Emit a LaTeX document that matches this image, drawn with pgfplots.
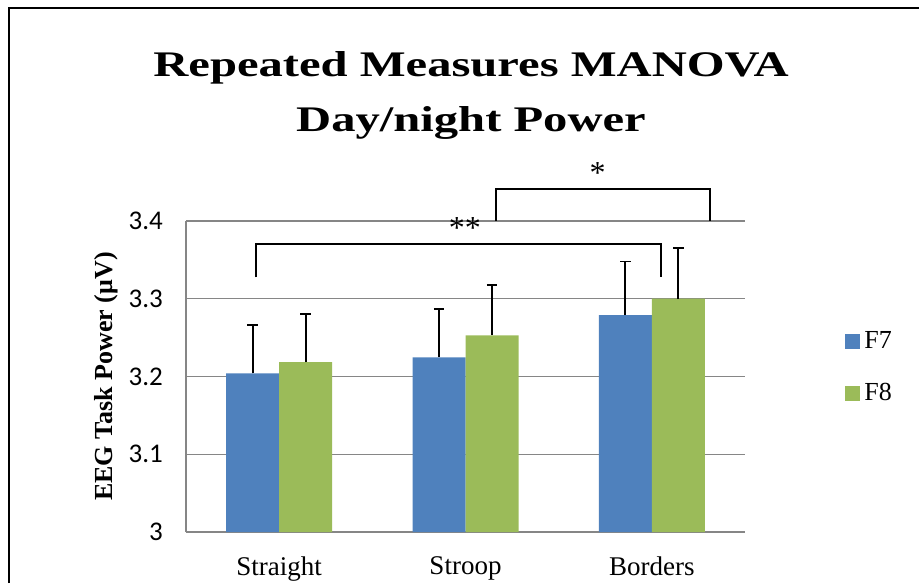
\documentclass[border=0pt]{standalone}
\usepackage{fontspec}
\setmainfont{Liberation Serif}
\newfontfamily\carlito{Carlito}
\newfontfamily\titlefont[FakeStretch=1.35]{Liberation Serif}
\usepackage{pgfplots}
\pgfplotsset{compat=1.18}
\definecolor{cblue}{HTML}{4F81BD}
\definecolor{cgreen}{HTML}{9BBB59}
\definecolor{cgrid}{HTML}{868686}
\begin{document}
\begin{tikzpicture}
\begin{axis}[name=ax, scale only axis, width=279.5pt, height=155.5pt,
 ybar=0pt, bar width=26.5pt,
 xmin=-0.5, xmax=2.5, ymin=3, ymax=3.4,
 ytick={3,3.1,3.2,3.3,3.4},
 xtick={0,1,2}, xticklabels={Straight,Stroop,Borders},
 major tick length=0pt,
 ymajorgrids, grid style={cgrid, line width=0.6pt},
 axis x line*=bottom, axis y line*=left,
 axis line style={cgrid, line width=0.6pt, -},
 clip=false,
 /pgf/number format/assume math mode=true,
 yticklabel style={font=\carlito\fontsize{13.5}{15}\selectfont, xshift=-8pt},
 xticklabel style={font=\fontsize{13.5}{15}\selectfont, yshift=-9pt},
 every axis y label/.style={at={(rel axis cs:0,0.5)}, xshift=-40pt, rotate=90, anchor=center, font=\bfseries\fontsize{13}{15}\selectfont},
 ylabel={EEG Task Power (μV)},
 legend style={draw=none, fill=none, at={(rel axis cs:1,0.53)}, anchor=west, xshift=50pt, inner sep=0pt, row sep=12pt, font=\fontsize{13}{15}\selectfont},
 legend cell align=left,
 legend image code/.code={\fill[#1] (0pt,-3.75pt) rectangle (7.5pt,3.75pt);},
]
\addplot[bar shift=-13.25pt, fill=cblue, draw=none,
  error bars/.cd, y dir=plus, y explicit, error bar style={black, line width=0.9pt},
  error mark options={rotate=90, mark size=2.6pt, black, line width=0.9pt}]
  coordinates {(0,3.204) +- (0,0.062) (1,3.2245) +- (0,0.062) (2,3.279) +- (0,0.069)};
\addlegendentry{F7}
\addplot[bar shift=13.25pt, fill=cgreen, draw=none,
  error bars/.cd, y dir=plus, y explicit, error bar style={black, line width=0.9pt},
  error mark options={rotate=90, mark size=2.6pt, black, line width=0.9pt}]
  coordinates {(0,3.2185) +- (0,0.062) (1,3.253) +- (0,0.065) (2,3.300) +- (0,0.065)};
\addlegendentry{F8}
\addplot[sharp plot, bar shift=0pt, black, line width=1pt, forget plot]
  coordinates {(-0.124,3.3276) (-0.124,3.3706) (2.049,3.3706) (2.049,3.3276)};
\addplot[sharp plot, bar shift=0pt, black, line width=1pt, forget plot]
  coordinates {(1.162,3.4) (1.162,3.441) (2.312,3.441) (2.312,3.4)};
\node[anchor=base, inner sep=0pt, font=\fontsize{16}{18}\selectfont] at (axis cs:1.709,3.448) {*};
\node[anchor=base, inner sep=0pt, font=\fontsize{16}{18}\selectfont] at (axis cs:0.997,3.377) {**};
\end{axis}
\node[align=center, font=\titlefont\bfseries\fontsize{18}{27.5}\selectfont] at ([shift={(142.5pt,218.25pt)}]ax.south west) {Repeated Measures MANOVA\\Day/night Power};
\draw[black, line width=0.75pt] ([shift={(-88.5pt,-25.5pt)}]ax.south west) -- ([shift={(-88.5pt,262pt)}]ax.south west) -- ([shift={(366.5pt,262pt)}]ax.south west);
\pgfresetboundingbox
\path[use as bounding box] ([shift={(-93pt,-25.5pt)}]ax.south west) rectangle ([shift={(366.5pt,266pt)}]ax.south west);
\end{tikzpicture}
\end{document}
